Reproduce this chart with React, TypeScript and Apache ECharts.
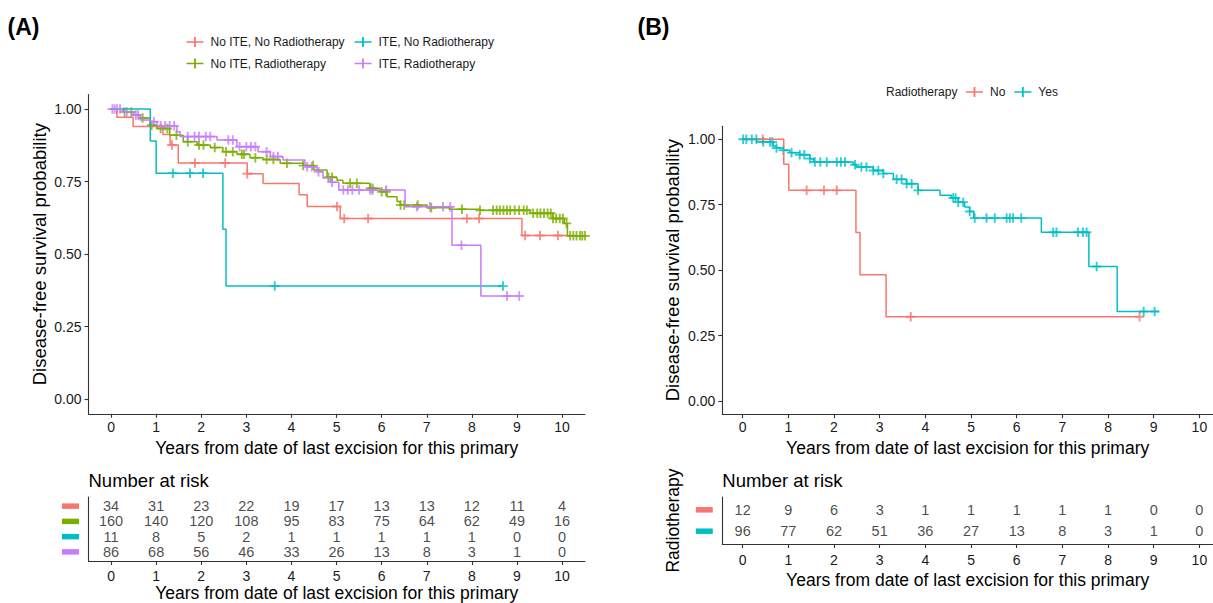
import React, { useEffect, useRef } from "react";
import * as echarts from "echarts";

// ---------- data ----------
const yearTicks = [0, 1, 2, 3, 4, 5, 6, 7, 8, 9, 10];
const survTicks = [0, 0.25, 0.5, 0.75, 1];

// Panel A groups
const namesA = ["No ITE, No Radiotherapy", "No ITE, Radiotherapy", "ITE, No Radiotherapy", "ITE, Radiotherapy"];
const colorsA = ["#F8766D", "#7CAE00", "#00BFC4", "#C77CFF"];

const kmNoITENoRT: [number, number][] = [
  [0, 1], [0.13, 0.972], [0.49, 0.94], [1.15, 0.912], [1.31, 0.876], [1.49, 0.814], [3.02, 0.777],
  [3.37, 0.743], [4.17, 0.705], [4.35, 0.664], [5.08, 0.623], [9.11, 0.564], [10.3, 0.564],
];
const censorNoITENoRT = [1.35, 1.86, 2.53, 3.02, 5.01, 5.17, 5.7, 7.89, 8.16, 9.18, 9.51, 9.91];

const kmNoITERT: [number, number][] = [
  [0, 1], [0.27, 0.99], [0.5, 0.98], [0.64, 0.969], [0.86, 0.944], [1.02, 0.933], [1.3, 0.91],
  [1.6, 0.887], [1.91, 0.876], [2.2, 0.867], [2.48, 0.853], [2.79, 0.844], [3.08, 0.832],
  [3.37, 0.826], [3.75, 0.813], [4.26, 0.805], [4.5, 0.79], [4.79, 0.765], [5.01, 0.755],
  [5.14, 0.744], [5.74, 0.727], [5.96, 0.715], [6.12, 0.698], [6.34, 0.681], [6.41, 0.669],
  [7.01, 0.66], [7.5, 0.655], [8.18, 0.651], [9.29, 0.641], [9.8, 0.623], [10.05, 0.606],
  [10.12, 0.563], [10.51, 0.563],
];
const censorNoITERT = [
  0.3, 0.45, 0.7, 0.9, 1.1, 1.25, 1.45, 1.7, 1.95, 2.05, 2.3, 2.55, 2.7, 2.9, 2.95, 3.2, 3.45, 3.6,
  3.9, 4.26, 4.48, 4.82, 4.9, 5.3, 5.45, 5.75, 5.8, 6.0, 6.1, 6.42, 6.5, 6.8, 7.1, 7.78, 8.18,
  8.47, 8.55, 8.62, 8.7, 8.78, 8.85, 8.95, 9.05, 9.15, 9.22, 9.36, 9.45, 9.52, 9.6, 9.68, 9.75,
  9.8, 9.87, 9.95, 10.02, 10.1, 10.18, 10.25, 10.32, 10.4, 10.45, 10.51,
];

const kmITENoRT: [number, number][] = [
  [0, 1], [0.87, 0.89], [1.0, 0.779], [2.48, 0.586], [2.55, 0.39], [8.69, 0.39],
];
const censorITENoRT = [1.37, 1.75, 2.04, 3.63, 8.69];

const kmITERT: [number, number][] = [
  [0, 1], [0.25, 0.99], [0.49, 0.979], [0.64, 0.962], [0.86, 0.956], [1.02, 0.942], [1.46, 0.922],
  [1.53, 0.905], [2.35, 0.893], [2.79, 0.87], [3.26, 0.853], [3.53, 0.836], [3.81, 0.824],
  [4.3, 0.801], [4.57, 0.784], [4.7, 0.762], [4.86, 0.748], [5.05, 0.721], [6.52, 0.663],
  [7.56, 0.531], [8.2, 0.356], [9.05, 0.356],
];
const censorITERT = [
  0.03, 0.08, 0.13, 0.2, 0.35, 0.55, 0.6, 0.95, 1.1, 1.2, 1.3, 1.4, 1.7, 1.85, 1.95, 2.1, 2.2, 2.6,
  2.7, 2.85, 3.0, 3.1, 3.2, 3.45, 3.6, 3.7, 4.35, 4.45, 4.6, 4.9, 5.15, 5.25, 5.35, 5.5, 5.75, 5.8,
  6.1, 6.78, 7.07, 7.36, 7.52, 7.77, 8.78, 9.05,
];

// Panel A number at risk
const riskNoITENoRT = [34, 31, 23, 22, 19, 17, 13, 13, 12, 11, 4];
const riskNoITERT = [160, 140, 120, 108, 95, 83, 75, 64, 62, 49, 16];
const riskITENoRT = [11, 8, 5, 2, 1, 1, 1, 1, 1, 0, 0];
const riskITERT = [86, 68, 56, 46, 33, 26, 13, 8, 3, 1, 0];

// Panel B groups
const namesB = ["No", "Yes"];
const colorsB = ["#F8766D", "#00BFC4"];

const kmNo: [number, number][] = [
  [0, 1], [0.9, 0.905], [1.01, 0.805], [2.48, 0.644], [2.57, 0.483], [3.14, 0.322], [8.69, 0.322],
];
const censorNo = [0.44, 1.4, 1.78, 2.06, 3.68, 8.69];

const kmYes: [number, number][] = [
  [0, 1], [0.31, 0.99], [0.67, 0.974], [0.74, 0.967], [0.89, 0.958], [1.03, 0.949], [1.25, 0.941],
  [1.47, 0.926], [1.55, 0.913], [2.42, 0.903], [2.49, 0.894], [2.86, 0.881], [3.08, 0.869],
  [3.3, 0.847], [3.59, 0.83], [3.84, 0.805], [4.32, 0.786], [4.57, 0.776], [4.72, 0.76],
  [4.86, 0.741], [4.97, 0.724], [5.06, 0.699], [6.54, 0.645], [7.58, 0.514], [8.2, 0.342],
  [9.12, 0.342],
];
const censorYes = [
  0.01, 0.08, 0.2, 0.3, 0.45, 0.6, 0.65, 0.74, 0.89, 1.07, 1.25, 1.35, 1.47, 1.58, 1.7, 1.84,
  2.06, 2.15, 2.24, 2.46, 2.6, 2.71, 2.86, 2.97, 3.08, 3.37, 3.48, 3.59, 3.7, 3.84, 4.61, 4.66,
  4.72, 4.83, 4.97, 5.08, 5.34, 5.52, 5.78, 5.85, 5.92, 6.1, 6.8, 6.87, 7.34, 7.45, 7.53, 7.75,
  8.78, 9.02,
];

// Panel B number at risk
const riskNo = [12, 9, 6, 3, 1, 1, 1, 1, 1, 0, 0];
const riskYes = [96, 77, 62, 51, 36, 27, 13, 8, 3, 1, 0];

// ---------- styling ----------
const FONT = "'Liberation Sans', Arial, Helvetica, sans-serif";
const INK = "#1a1a1a";
const AXIS = "#333333";
const PLUS = "path://M3.6,0H5.4V3.6H9V5.4H5.4V9H3.6V5.4H0V3.6H3.6Z";
const KEY = "path://M0,4.3H17V5.7H0Z M7.6,0H9.4V10H7.6Z";
const XTITLE = "Years from date of last excision for this primary";

function survAt(steps: [number, number][], t: number): number {
  let s = steps[0][1];
  for (const [time, v] of steps) {
    if (time <= t + 1e-9) s = v;
    else break;
  }
  return s;
}

function xAxisCfg(gridIndex: number, min: number, max: number, margin: number, nameGap: number) {
  return {
    type: "value",
    gridIndex,
    min,
    max,
    axisLine: { show: true, onZero: false, lineStyle: { color: AXIS, width: 1.1 } },
    axisTick: { show: true, length: 4, customValues: yearTicks, lineStyle: { color: AXIS, width: 1.1 } },
    axisLabel: { customValues: yearTicks, margin, fontSize: 14, color: INK, fontFamily: FONT },
    splitLine: { show: false },
    name: XTITLE,
    nameLocation: "middle",
    nameGap,
    nameTextStyle: { fontSize: 17.5, color: "#000", fontFamily: FONT },
  };
}

function ySurvCfg(gridIndex: number) {
  return {
    type: "value",
    gridIndex,
    min: -0.05,
    max: 1.05,
    axisLine: { show: true, onZero: false, lineStyle: { color: AXIS, width: 1.1 } },
    axisTick: { show: true, length: 4, customValues: survTicks, lineStyle: { color: AXIS, width: 1.1 } },
    axisLabel: {
      customValues: survTicks,
      margin: 7,
      fontSize: 14,
      color: INK,
      fontFamily: FONT,
      formatter: (v: number) => v.toFixed(2),
    },
    splitLine: { show: false },
    name: "Disease-free survival probability",
    nameLocation: "middle",
    nameRotate: 90,
    nameGap: 40,
    nameTextStyle: { fontSize: 18.5, color: "#000", fontFamily: FONT },
  };
}

function yRiskCfg(gridIndex: number, colors: string[], name: string) {
  const rows = colors.map((_, i) => i + 1);
  const rich: Record<string, any> = {};
  colors.forEach((c, i) => {
    rich["k" + (i + 1)] = { backgroundColor: c, width: 17, height: 5.5, lineHeight: 6, fontSize: 4 };
  });
  return {
    type: "value",
    gridIndex,
    min: 0.4,
    max: colors.length + 0.6,
    inverse: true,
    axisLine: { show: true, onZero: false, lineStyle: { color: AXIS, width: 1.1 } },
    axisTick: { show: false },
    axisLabel: {
      customValues: rows,
      margin: 9.5,
      formatter: (v: number) => `{k${Math.round(v)}| }`,
      rich,
    },
    splitLine: { show: false },
    name,
    nameLocation: "middle",
    nameRotate: 90,
    nameGap: 40,
    nameTextStyle: { fontSize: 17.5, color: "#000", fontFamily: FONT },
  };
}

function kmSeries(name: string, color: string, steps: [number, number][], censors: number[], axis: number) {
  return [
    {
      type: "line",
      name,
      xAxisIndex: axis,
      yAxisIndex: axis,
      step: "end",
      showSymbol: false,
      symbol: "none",
      lineStyle: { color, width: 1.5 },
      itemStyle: { color },
      data: steps,
      silent: true,
    },
    {
      type: "scatter",
      name,
      xAxisIndex: axis,
      yAxisIndex: axis,
      symbol: PLUS,
      symbolSize: 9.5,
      itemStyle: { color },
      data: censors.map((t) => [t, survAt(steps, t)]),
      silent: true,
    },
  ];
}

function riskSeries(values: number[], row: number, axis: number) {
  return {
    type: "scatter",
    name: "risk" + axis + "_" + row,
    xAxisIndex: axis,
    yAxisIndex: axis,
    symbolSize: 0,
    data: yearTicks.map((t, i) => [t, row, values[i]]),
    label: {
      show: true,
      position: "inside",
      formatter: (p: any) => String(p.value[2]),
      fontSize: 14.5,
      color: INK,
      fontFamily: FONT,
    },
    silent: true,
  };
}

function legendCfg(names: string[], left: number, top: number, itemGap = 10) {
  return {
    data: names,
    left,
    top,
    padding: 0,
    itemGap,
    icon: KEY,
    itemWidth: 17,
    itemHeight: 10,
    selectedMode: false,
    textStyle: { fontSize: 12, color: INK, fontFamily: FONT, padding: [0, 0, 0, 2] },
  };
}

export default function App() {
  const ref = useRef<HTMLDivElement>(null);
  useEffect(() => {
    if (!ref.current) return;
    const chart = echarts.init(ref.current, undefined, { renderer: "svg" });

    const gA = { left: 88.5, top: 94.5, width: 496.5, height: 319.3 };
    const gAt = { left: 88.5, top: 497, width: 496.5, height: 65 };
    const gB = { left: 722.3, top: 126.2, width: 491, height: 288 };
    const gBt = { left: 722.3, top: 497, width: 491, height: 47 };

    const aMin = -0.5;
    const aMax = aMin + 496.5 / 45.1;
    const bMin = -0.446;
    const bMax = bMin + 491 / 45.7;

    const kmA = [kmNoITENoRT, kmNoITERT, kmITENoRT, kmITERT];
    const cenA = [censorNoITENoRT, censorNoITERT, censorITENoRT, censorITERT];
    const riskA = [riskNoITENoRT, riskNoITERT, riskITENoRT, riskITERT];
    const kmB = [kmNo, kmYes];
    const cenB = [censorNo, censorYes];
    const riskB = [riskNo, riskYes];

    const series: any[] = [];
    namesA.forEach((n, i) => series.push(...kmSeries(n, colorsA[i], kmA[i], cenA[i], 0)));
    riskA.forEach((r, i) => series.push(riskSeries(r, i + 1, 1)));
    namesB.forEach((n, i) => series.push(...kmSeries(n, colorsB[i], kmB[i], cenB[i], 2)));
    riskB.forEach((r, i) => series.push(riskSeries(r, i + 1, 3)));

    const option: any = {
      animation: false,
      backgroundColor: "#ffffff",
      textStyle: { fontFamily: FONT },
      grid: [gA, gAt, gB, gBt].map((g) => ({ ...g, containLabel: false })),
      xAxis: [
        xAxisCfg(0, aMin, aMax, 6, 25),
        xAxisCfg(1, aMin, aMax, 8, 23),
        xAxisCfg(2, bMin, bMax, 6, 25),
        xAxisCfg(3, bMin, bMax, 9, 27),
      ],
      yAxis: [
        ySurvCfg(0),
        yRiskCfg(1, colorsA, ""),
        ySurvCfg(2),
        yRiskCfg(3, colorsB, "Radiotherapy"),
      ],
      legend: [
        legendCfg([namesA[0]], 186.5, 36),
        legendCfg([namesA[2]], 354.5, 36),
        legendCfg([namesA[1]], 186.5, 57.5),
        legendCfg([namesA[3]], 354.5, 57.5),
        legendCfg(namesB, 966, 86, 9),
      ],
      graphic: [
        { type: "text", x: 7.5, y: 27, style: { text: "(A)", font: `bold 23px ${FONT}`, fill: "#000", verticalAlign: "middle" } },
        { type: "text", x: 637.5, y: 27, style: { text: "(B)", font: `bold 23px ${FONT}`, fill: "#000", verticalAlign: "middle" } },
        { type: "text", x: 88.5, y: 480, style: { text: "Number at risk", font: `18.5px ${FONT}`, fill: "#000", verticalAlign: "middle" } },
        { type: "text", x: 722.3, y: 480, style: { text: "Number at risk", font: `18.5px ${FONT}`, fill: "#000", verticalAlign: "middle" } },
        { type: "text", x: 886, y: 92, style: { text: "Radiotherapy", font: `12px ${FONT}`, fill: INK, verticalAlign: "middle" } },
      ],
      series,
    };

    chart.setOption(option);
    return () => chart.dispose();
  }, []);

  return (
    <div
      ref={ref}
      style={{ position: "fixed", left: 0, top: 0, width: 1213, height: 603, background: "#fff" }}
    />
  );
}
